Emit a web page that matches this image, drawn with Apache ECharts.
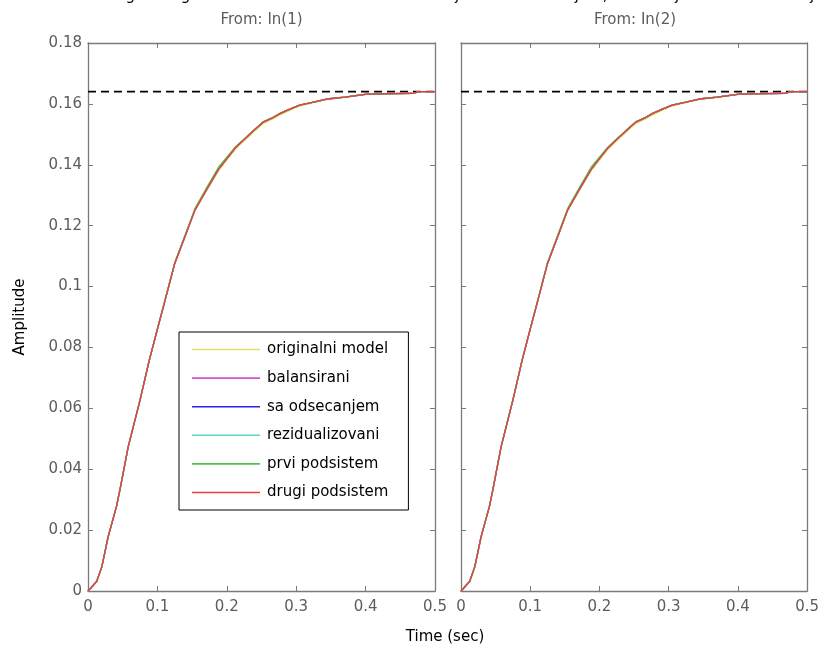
<!DOCTYPE html>
<html>
<head>
<meta charset="utf-8">
<script src="https://cdn.jsdelivr.net/npm/echarts@6/dist/echarts.min.js"></script>
<style>
  html, body { margin: 0; padding: 0; background: #fff; }
  #chart { width: 822px; height: 648px; }
</style>
</head>
<body>
<div id="chart"></div>
<script>
// Step response samples (time in seconds)
const timeSec = [0, 0.0125, 0.02, 0.029, 0.041, 0.046, 0.058, 0.075, 0.088, 0.1, 0.112, 0.125, 0.14, 0.154, 0.17, 0.188, 0.2, 0.212, 0.224, 0.24, 0.253, 0.265, 0.277, 0.29, 0.305, 0.325, 0.344, 0.37, 0.402, 0.44, 0.469, 0.478, 0.5];

const originalniModel = [0, 0.0031, 0.0080, 0.0178, 0.0277, 0.0332, 0.0474, 0.0627, 0.0752, 0.0858, 0.0962, 0.1076, 0.1164, 0.1249, 0.1312, 0.1380, 0.1415, 0.1450, 0.1476, 0.1510, 0.1536, 0.1549, 0.1564, 0.1578, 0.1593, 0.1604, 0.1614, 0.1621, 0.1631, 0.1634, 0.1635, 0.1640, 0.1640];
const balansirani      = [0, 0.0031, 0.0080, 0.0178, 0.0277, 0.0332, 0.0474, 0.0627, 0.0755, 0.0860, 0.0963, 0.1076, 0.1166, 0.1251, 0.1315, 0.1385, 0.1420, 0.1455, 0.1481, 0.1515, 0.1541, 0.1553, 0.1569, 0.1582, 0.1596, 0.1606, 0.1616, 0.1622, 0.1632, 0.1634, 0.1635, 0.1640, 0.1640];
const saOdsecanjem     = [0, 0.0031, 0.0080, 0.0178, 0.0277, 0.0332, 0.0474, 0.0627, 0.0755, 0.0860, 0.0963, 0.1076, 0.1166, 0.1251, 0.1315, 0.1385, 0.1420, 0.1455, 0.1481, 0.1515, 0.1541, 0.1553, 0.1569, 0.1582, 0.1596, 0.1606, 0.1616, 0.1622, 0.1632, 0.1634, 0.1635, 0.1640, 0.1640];
const rezidualizovani  = [0, 0.0031, 0.0080, 0.0178, 0.0277, 0.0332, 0.0474, 0.0627, 0.0755, 0.0860, 0.0963, 0.1076, 0.1166, 0.1251, 0.1315, 0.1385, 0.1420, 0.1455, 0.1481, 0.1515, 0.1541, 0.1553, 0.1569, 0.1582, 0.1596, 0.1606, 0.1616, 0.1622, 0.1632, 0.1634, 0.1635, 0.1640, 0.1640];
const prviPodsistem    = [0, 0.0031, 0.0081, 0.0179, 0.0278, 0.0333, 0.0476, 0.0629, 0.0757, 0.0862, 0.0966, 0.1079, 0.1170, 0.1256, 0.1321, 0.1392, 0.1425, 0.1458, 0.1483, 0.1516, 0.1542, 0.1554, 0.1569, 0.1582, 0.1596, 0.1606, 0.1616, 0.1622, 0.1632, 0.1634, 0.1635, 0.1640, 0.1640];
const drugiPodsistem   = [0, 0.0031, 0.0080, 0.0178, 0.0277, 0.0332, 0.0474, 0.0627, 0.0755, 0.0860, 0.0963, 0.1076, 0.1166, 0.1251, 0.1315, 0.1385, 0.1420, 0.1455, 0.1481, 0.1515, 0.1541, 0.1553, 0.1569, 0.1582, 0.1596, 0.1606, 0.1616, 0.1622, 0.1632, 0.1634, 0.1635, 0.1640, 0.1640];

const seriesNames = ['originalni model', 'balansirani', 'sa odsecanjem', 'rezidualizovani', 'prvi podsistem', 'drugi podsistem'];
const seriesValues = [originalniModel, balansirani, saOdsecanjem, rezidualizovani, prviPodsistem, drugiPodsistem];
const seriesColors = ['#e2df66', '#d452d4', '#2424e6', '#5fd3d3', '#4fc24f', '#f03c3c'];

const finalValue = 0.164;
const panelTitles = ['From: In(1)', 'From: In(2)'];
const xTicks = { min: 0, max: 0.5, interval: 0.1 };
const yTicks = { min: 0, max: 0.18, interval: 0.02 };

const FONT = '"DejaVu Sans", "Liberation Sans", Arial, sans-serif';
const AXIS_GRAY = '#7a7a7a';
const LABEL_GRAY = '#5c5c5c';

const grids = [
  { left: 88, top: 43, width: 347, height: 548 },
  { left: 461, top: 43, width: 348, height: 548 }
];

const xAxes = [];
const yAxes = [];
grids.forEach((g, gi) => {
  // bottom axis carries the labels, top axis closes the frame with inner ticks
  ['bottom', 'top'].forEach(pos => {
    xAxes.push({
      type: 'value', gridIndex: gi, position: pos,
      min: xTicks.min, max: xTicks.max, interval: xTicks.interval,
      axisLine: { show: true, onZero: false, lineStyle: { color: AXIS_GRAY, width: 1.3 } },
      axisTick: { show: true, inside: true, length: 5, lineStyle: { color: AXIS_GRAY } },
      axisLabel: { show: pos === 'bottom', color: LABEL_GRAY, fontFamily: FONT, fontSize: 15, margin: 9,
        formatter: v => String(Math.round(v * 10) / 10) },
      splitLine: { show: false }
    });
  });
  ['left', 'right'].forEach(pos => {
    yAxes.push({
      type: 'value', gridIndex: gi, position: pos,
      min: yTicks.min, max: yTicks.max, interval: yTicks.interval,
      axisLine: { show: true, onZero: false, lineStyle: { color: AXIS_GRAY, width: 1.3 } },
      axisTick: { show: true, inside: true, length: 5, lineStyle: { color: AXIS_GRAY } },
      axisLabel: { show: gi === 0 && pos === 'left', color: LABEL_GRAY, fontFamily: FONT, fontSize: 15, margin: 6,
        formatter: v => String(Math.round(v * 100) / 100) },
      splitLine: { show: false }
    });
  });
});

const series = [];
grids.forEach((g, gi) => {
  // steady-state reference line
  series.push({
    type: 'line', xAxisIndex: gi * 2, yAxisIndex: gi * 2,
    data: [[xTicks.min, finalValue], [xTicks.max, finalValue]],
    symbol: 'none', silent: true,
    lineStyle: { color: '#000', width: 1.7, type: [8, 5] }
  });
  seriesNames.forEach((name, i) => {
    series.push({
      name: name, type: 'line', xAxisIndex: gi * 2, yAxisIndex: gi * 2,
      data: timeSec.map((t, k) => [t, seriesValues[i][k]]),
      symbol: 'none', showSymbol: false,
      lineStyle: { color: seriesColors[i], width: 1.3 },
      itemStyle: { color: seriesColors[i] }
    });
  });
});

const graphics = [
  // figure title, mostly above the top edge of the canvas
  { type: 'text', x: 411, y: 4,
    style: { text: 'Odskočni odzivi originalnog modela i redukovanih modela dobijenih balansiranjem, odsecanjem i rezidualizacijom',
      font: '15px ' + FONT, fill: '#000', align: 'center', verticalAlign: 'bottom' } },
  { type: 'text', x: 20, y: 317, rotation: Math.PI / 2,
    style: { text: 'Amplitude', font: '15px ' + FONT, fill: '#000', align: 'center', verticalAlign: 'middle' } },
  { type: 'text', x: 445, y: 637,
    style: { text: 'Time (sec)', font: '15px ' + FONT, fill: '#000', align: 'center', verticalAlign: 'middle' } }
];
panelTitles.forEach((txt, gi) => {
  graphics.push({ type: 'text', x: grids[gi].left + grids[gi].width / 2, y: 20,
    style: { text: txt, font: '15px ' + FONT, fill: LABEL_GRAY, align: 'center', verticalAlign: 'middle' } });
});

const chart = echarts.init(document.getElementById('chart'), null, { renderer: 'canvas' });
chart.setOption({
  animation: false,
  backgroundColor: '#fff',
  grid: grids,
  xAxis: xAxes,
  yAxis: yAxes,
  legend: {
    data: seriesNames.map(n => ({ name: n, icon: 'rect' })),
    orient: 'vertical',
    left: 179, top: 332,
    backgroundColor: '#fff',
    borderColor: '#000', borderWidth: 1,
    borderRadius: 0,
    padding: [10, 20, 10, 13],
    itemWidth: 68, itemHeight: 1.6, itemGap: 13.6,
    textStyle: { color: '#000', fontFamily: FONT, fontSize: 15, lineHeight: 14, padding: [0, 0, 0, 2] },
    selectedMode: false
  },
  series: series,
  graphic: graphics
});
</script>
</body>
</html>
